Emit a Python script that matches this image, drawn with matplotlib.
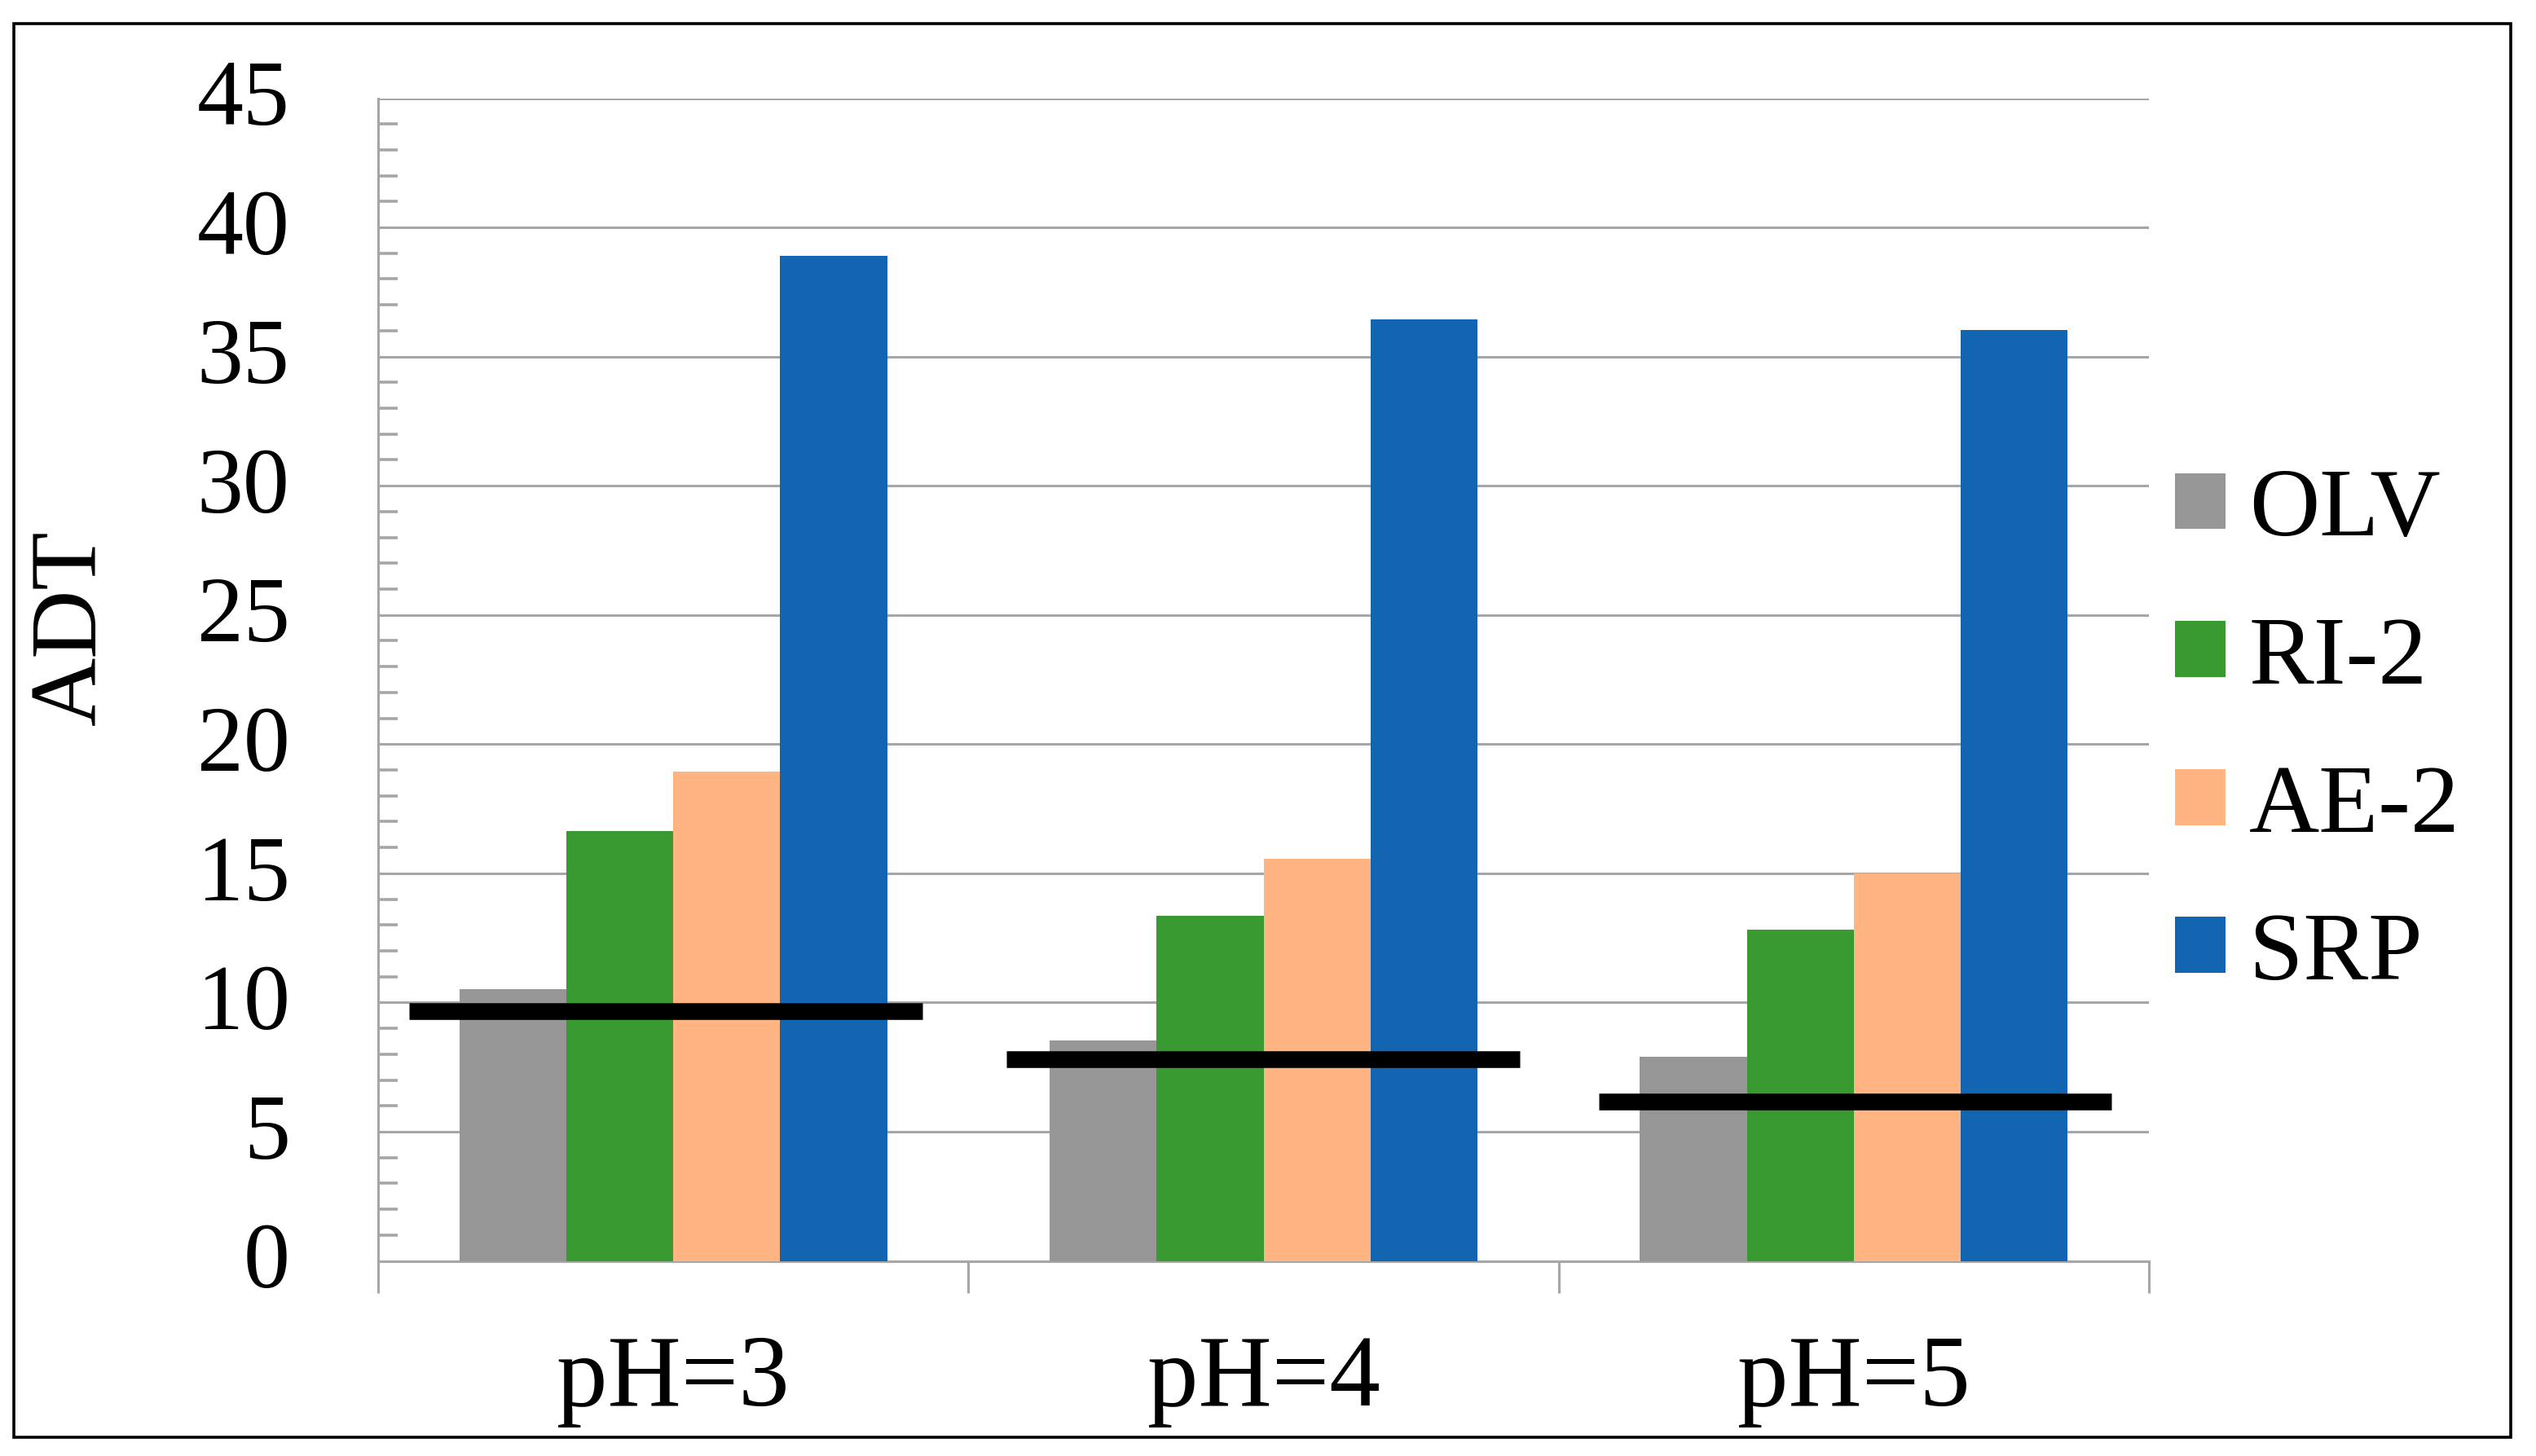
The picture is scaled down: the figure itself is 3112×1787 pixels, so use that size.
import matplotlib
matplotlib.use("Agg")
import matplotlib.pyplot as plt
import numpy as np
from matplotlib.patches import Rectangle, Patch
from matplotlib.ticker import MultipleLocator, FixedLocator, NullFormatter
from matplotlib.transforms import ScaledTranslation

# ---------------- data ----------------
categories = ["pH=3", "pH=4", "pH=5"]
series_names = ["OLV", "RI-2", "AE-2", "SRP"]
olv = [10.52, 8.53, 7.90]
ri2 = [16.63, 13.37, 12.81]
ae2 = [18.95, 15.55, 15.00]
srp = [38.89, 36.44, 36.02]
threshold = [9.65, 7.80, 6.15]          # black reference lines
threshold_start = [-0.447, -0.436, -0.432]  # relative to category centre
threshold_end = [0.422, 0.434, 0.436]
y_label = "ADT"
y_ticks = [0, 5, 10, 15, 20, 25, 30, 35, 40, 45]

colors = ["#969696", "#3A9A32", "#FFB482", "#1265B1"]
grid_col = "#A6A6A6"

plt.rcParams["font.family"] = ["Liberation Serif", "DejaVu Serif"]

fig = plt.figure(figsize=(15.56, 8.935), dpi=200)
ax = fig.add_axes([464 / 3112, 1 - 1547.5 / 1787, (2637 - 464) / 3112, (1547.5 - 120.5) / 1787])

values = [olv, ri2, ae2, srp]
n = len(series_names)
bar_w = 0.725 / n
x = np.arange(len(categories))
for k, (vals, col, name) in enumerate(zip(values, colors, series_names)):
    ax.bar(x + (k - (n - 1) / 2) * bar_w, vals, width=bar_w, color=col,
           label=name, zorder=3, linewidth=0)

for i, lvl in enumerate(threshold):
    ax.hlines(lvl, x[i] + threshold_start[i], x[i] + threshold_end[i],
              colors="black", linewidth=7.4, zorder=4)

ax.set_xlim(-0.5, len(categories) - 0.5)
ax.set_ylim(0, 45)

# y axis
ax.set_yticks(y_ticks)
ax.yaxis.set_minor_locator(MultipleLocator(1))
ax.tick_params(axis="y", which="major", length=0, pad=39, labelsize=41)
ax.tick_params(axis="y", which="minor", direction="in", length=8.8,
               width=1.3, color=grid_col)
ax.yaxis.grid(True, which="major", color=grid_col, linewidth=1.1, zorder=0)
shift_up = ScaledTranslation(0, 7 / 200, fig.dpi_scale_trans)
for lab in ax.get_yticklabels():
    lab.set_transform(lab.get_transform() + shift_up)

# x axis: separators as major ticks, labels on minor ticks
ax.xaxis.set_major_locator(FixedLocator(np.arange(-0.5, len(categories), 1.0)))
ax.xaxis.set_major_formatter(NullFormatter())
ax.xaxis.set_minor_locator(FixedLocator(x))
ax.set_xticklabels(categories, minor=True)
ax.tick_params(axis="x", which="major", direction="out", length=14,
               width=1.1, color=grid_col)
ax.tick_params(axis="x", which="minor", length=0, pad=32.5, labelsize=45)

for s in ["top", "right"]:
    ax.spines[s].set_visible(False)
for s in ["left", "bottom"]:
    ax.spines[s].set_color(grid_col)
    ax.spines[s].set_linewidth(1.1)
ax.set_axisbelow(True)

fig.text(0.0286, 0.569, y_label, rotation=90, fontsize=42,
         ha="center", va="center")

handles = [Patch(facecolor=c, edgecolor="none") for c in colors]
fig.legend(handles, series_names, loc="center left",
           bbox_to_anchor=(2669 / 3112, 0.4958), frameon=False,
           fontsize=43, handlelength=0.52, handleheight=0.51,
           handletextpad=0.24, labelspacing=0.62, borderpad=0,
           borderaxespad=0)

fig.patches.append(Rectangle((17 / 3112, 1 - 1764 / 1787),
                             (3081 - 17) / 3112, (1764 - 29) / 1787,
                             transform=fig.transFigure, fill=False,
                             edgecolor="black", linewidth=1.3))

fig.savefig("out.png", dpi=200, facecolor="white")
